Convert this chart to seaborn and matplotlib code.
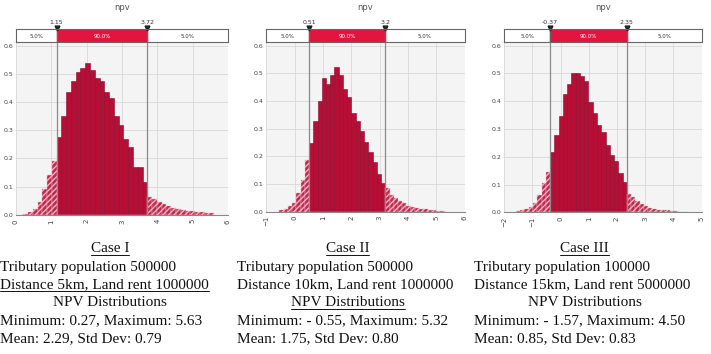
import numpy as np
import pandas as pd
import matplotlib
matplotlib.use('Agg')
import matplotlib.pyplot as plt
import seaborn as sns

sns.set_style('white')

# 5% / 95% delimiters shown above each histogram
q_low = [1.15, 0.51, -0.37]
q_high = [3.72, 3.2, 2.35]
q_low_labels = ['1.15', '0.51', '-0.37']
q_high_labels = ['3.72', '3.2', '2.35']

# density heights: left tail, middle 90%, right tail
case1_left = [0.003, 0.01, 0.02, 0.045, 0.09, 0.14, 0.19]
case1_mid = [0.275, 0.35, 0.435, 0.475, 0.505, 0.52, 0.54, 0.515, 0.485, 0.475,
             0.435, 0.415, 0.35, 0.32, 0.27, 0.24, 0.17, 0.17, 0.115]
case1_right = [0.065, 0.058, 0.047, 0.04, 0.033, 0.026, 0.021, 0.018, 0.015,
               0.012, 0.01, 0.009, 0.007, 0.005]

case2_left = [0.005, 0.01, 0.02, 0.033, 0.067, 0.114, 0.188]
case2_mid = [0.247, 0.326, 0.40, 0.482, 0.461, 0.494, 0.524, 0.494, 0.444, 0.414,
             0.355, 0.326, 0.29, 0.25, 0.215, 0.18, 0.135, 0.105]
case2_right = [0.085, 0.06, 0.05, 0.04, 0.03, 0.022, 0.017, 0.013, 0.01, 0.008,
               0.006, 0.005, 0.004, 0.003]

case3_left = [0.004, 0.007, 0.013, 0.021, 0.033, 0.063, 0.105, 0.144]
case3_mid = [0.218, 0.28, 0.348, 0.427, 0.462, 0.501, 0.501, 0.492, 0.472, 0.397,
             0.356, 0.313, 0.291, 0.242, 0.206, 0.185, 0.14, 0.108]
case3_right = [0.067, 0.055, 0.04, 0.032, 0.022, 0.016, 0.014, 0.01, 0.008, 0.007,
               0.006, 0.004, 0.003, 0.002]

lefts = [case1_left, case2_left, case3_left]
mids = [case1_mid, case2_mid, case3_mid]
rights = [case1_right, case2_right, case3_right]

x_ranges = [(0, 6), (-1, 6), (-2, 5)]

captions = [
    ['Case I', 'Tributary population 500000', 'Distance 5km, Land rent 1000000',
     'NPV Distributions', 'Minimum: 0.27, Maximum: 5.63', 'Mean: 2.29, Std Dev: 0.79'],
    ['Case II', 'Tributary population 500000', 'Distance 10km, Land rent 1000000',
     'NPV Distributions', 'Minimum: - 0.55, Maximum: 5.32', 'Mean: 1.75, Std Dev: 0.80'],
    ['Case III', 'Tributary population 100000', 'Distance 15km, Land rent 5000000',
     'NPV Distributions', 'Minimum: - 1.57, Maximum: 4.50', 'Mean: 0.85, Std Dev: 0.83'],
]
underlined = [[0, 2], [0, 3], [0]]

# axes placement (figure fractions)
axes_pos = [[0.0225, 0.393, 0.298, 0.486],
            [0.3745, 0.402, 0.279, 0.477],
            [0.7089, 0.400, 0.278, 0.479]]
col_left = [0.0, 0.334, 0.667]

red = '#b70e36'
bright_red = '#e3143f'
grid_col = '#d8d8d8'

fig = plt.figure(figsize=(7.11, 3.54), dpi=100)

for i in range(3):
    ax = fig.add_axes(axes_pos[i])
    ax.set_facecolor('#f4f4f4')
    w = (q_high[i] - q_low[i]) / len(mids[i])
    nl, nm, nr = len(lefts[i]), len(mids[i]), len(rights[i])
    edges = q_low[i] + w * np.arange(-nl, nm + nr + 1)
    df = pd.DataFrame({
        'npv': (edges[:-1] + edges[1:]) / 2,
        'density': lefts[i] + mids[i] + rights[i],
        'part': ['tail'] * nl + ['mid'] * nm + ['tail'] * nr,
    })
    bins = list(edges)

    sns.histplot(data=df[df['part'] == 'mid'], x='npv', weights='density',
                 bins=bins, ax=ax, color=red, edgecolor='#8c0a2a',
                 linewidth=0.4, alpha=1)
    sns.histplot(data=df[df['part'] == 'tail'], x='npv', weights='density',
                 bins=bins, ax=ax, facecolor='#c0284c', edgecolor='#eeb4c2',
                 linewidth=0.3, hatch='//////', alpha=1)

    ax.set_xlim(*x_ranges[i])
    ax.set_ylim(0, 0.61)
    yt = np.arange(0, 0.61, 0.1)
    ax.set_yticks(yt)
    ax.set_yticklabels([f'{v:.1f}' for v in yt])
    ax.set_xticks(range(x_ranges[i][0], x_ranges[i][1] + 1))
    ax.grid(True, color=grid_col, linewidth=0.6)
    ax.set_axisbelow(True)
    ax.tick_params(axis='x', labelrotation=90, labelsize=5, length=2, pad=1,
                   colors='#444444')
    ax.tick_params(axis='y', labelsize=4.5, length=0, pad=2, colors='#444444')
    ax.set_xlabel('')
    ax.set_ylabel('')
    for s in ax.spines.values():
        s.set_visible(False)
    ax.spines['bottom'].set_visible(True)
    ax.spines['bottom'].set_color('#888888')
    ax.spines['bottom'].set_linewidth(0.8)
    for q in (q_low[i], q_high[i]):
        ax.axvline(q, color='#8a8a8a', linewidth=0.9)

    # delimiter box above the plot
    p = axes_pos[i]
    bx = fig.add_axes([p[0], p[1] + p[3] + 0.002, p[2], 0.038])
    bx.set_xlim(*x_ranges[i])
    bx.set_ylim(0, 1)
    bx.axvspan(q_low[i], q_high[i], color=bright_red)
    bx.set_xticks([])
    bx.set_yticks([])
    for s in bx.spines.values():
        s.set_color('#666666')
        s.set_linewidth(0.8)
    x0, x1 = x_ranges[i]
    bx.text((x0 + q_low[i]) / 2, 0.45, '5.0%', ha='center', va='center',
            fontsize=4, color='#333333')
    bx.text((q_low[i] + q_high[i]) / 2, 0.45, '90.0%', ha='center', va='center',
            fontsize=4, color='white')
    bx.text((q_high[i] + x1) / 2, 0.45, '5.0%', ha='center', va='center',
            fontsize=4, color='#333333')
    for q, lab in ((q_low[i], q_low_labels[i]), (q_high[i], q_high_labels[i])):
        bx.axvline(q, color='#666666', linewidth=0.9)
        bx.plot([q], [1.05], marker='v', color='#222222', markersize=3.5,
                clip_on=False)
        bx.text(q, 1.3, lab, ha='center', va='bottom', fontsize=4.5,
                color='#333333')
    bx.text((x0 + x1) / 2, 2.6, 'npv', ha='center', va='center', fontsize=6,
            color='#555555')

    # caption block below
    for k, line in enumerate(captions[i]):
        y = 1 - (249 + 18 * k) / 354
        centered = k in (0, 3)
        x = col_left[i] + 0.155 if centered else col_left[i]
        t = fig.text(x, y, line, ha='center' if centered else 'left', va='center',
                     fontsize=11, family='Liberation Serif', color='#111111')
        if k in underlined[i]:
            fig.canvas.draw()
            bb = t.get_window_extent()
            fy = (bb.y0 + 1) / fig.bbox.height
            fig.add_artist(plt.Line2D([bb.x0 / fig.bbox.width, bb.x1 / fig.bbox.width],
                                      [fy, fy], color='#111111', linewidth=0.7))

fig.savefig('out.png', dpi=100)
